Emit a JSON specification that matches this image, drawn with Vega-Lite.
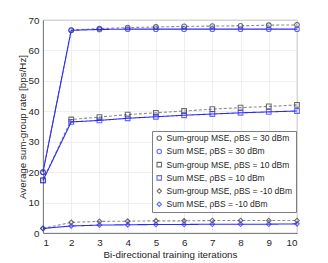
{
  "$schema": "https://vega.github.io/schema/vega-lite/v6.json",
  "autosize": {"type": "none"},
  "width": 254,
  "height": 213,
  "padding": {"left": 43, "top": 20, "right": 31, "bottom": 30},
  "background": "white",
  "config": {
    "font": "Liberation Sans",
    "view": {"stroke": "#7f7f7f", "strokeWidth": 0.8},
    "axis": {
      "labelFont": "Liberation Sans",
      "titleFont": "Liberation Sans",
      "labelFontSize": 9.8,
      "titleFontSize": 9.8,
      "titleFontWeight": "normal",
      "labelColor": "#262626",
      "titleColor": "#262626",
      "domainColor": "#7f7f7f",
      "tickColor": "#7f7f7f",
      "gridColor": "#e8e8e8",
      "gridWidth": 0.7,
      "tickSize": 0,
      "labelPadding": 4
    }
  },
  "data": {
    "values": [
      {"s": "Sum-group MSE, ρBS = 30 dBm", "m": "group", "it": 1, "r": 20.0},
      {"s": "Sum-group MSE, ρBS = 30 dBm", "m": "group", "it": 2, "r": 66.7},
      {"s": "Sum-group MSE, ρBS = 30 dBm", "m": "group", "it": 3, "r": 67.2},
      {"s": "Sum-group MSE, ρBS = 30 dBm", "m": "group", "it": 4, "r": 67.5},
      {"s": "Sum-group MSE, ρBS = 30 dBm", "m": "group", "it": 5, "r": 67.7},
      {"s": "Sum-group MSE, ρBS = 30 dBm", "m": "group", "it": 6, "r": 67.9},
      {"s": "Sum-group MSE, ρBS = 30 dBm", "m": "group", "it": 7, "r": 68.0},
      {"s": "Sum-group MSE, ρBS = 30 dBm", "m": "group", "it": 8, "r": 68.1},
      {"s": "Sum-group MSE, ρBS = 30 dBm", "m": "group", "it": 9, "r": 68.3},
      {"s": "Sum-group MSE, ρBS = 30 dBm", "m": "group", "it": 10, "r": 68.4},
      {"s": "Sum MSE, ρBS = 30 dBm", "m": "sum", "it": 1, "r": 20.0},
      {"s": "Sum MSE, ρBS = 30 dBm", "m": "sum", "it": 2, "r": 66.6},
      {"s": "Sum MSE, ρBS = 30 dBm", "m": "sum", "it": 3, "r": 66.9},
      {"s": "Sum MSE, ρBS = 30 dBm", "m": "sum", "it": 4, "r": 67.0},
      {"s": "Sum MSE, ρBS = 30 dBm", "m": "sum", "it": 5, "r": 67.0},
      {"s": "Sum MSE, ρBS = 30 dBm", "m": "sum", "it": 6, "r": 67.0},
      {"s": "Sum MSE, ρBS = 30 dBm", "m": "sum", "it": 7, "r": 67.0},
      {"s": "Sum MSE, ρBS = 30 dBm", "m": "sum", "it": 8, "r": 67.0},
      {"s": "Sum MSE, ρBS = 30 dBm", "m": "sum", "it": 9, "r": 67.0},
      {"s": "Sum MSE, ρBS = 30 dBm", "m": "sum", "it": 10, "r": 67.0},
      {"s": "Sum-group MSE, ρBS = 10 dBm", "m": "group", "it": 1, "r": 17.3},
      {"s": "Sum-group MSE, ρBS = 10 dBm", "m": "group", "it": 2, "r": 37.3},
      {"s": "Sum-group MSE, ρBS = 10 dBm", "m": "group", "it": 3, "r": 38.1},
      {"s": "Sum-group MSE, ρBS = 10 dBm", "m": "group", "it": 4, "r": 38.9},
      {"s": "Sum-group MSE, ρBS = 10 dBm", "m": "group", "it": 5, "r": 39.5},
      {"s": "Sum-group MSE, ρBS = 10 dBm", "m": "group", "it": 6, "r": 40.1},
      {"s": "Sum-group MSE, ρBS = 10 dBm", "m": "group", "it": 7, "r": 40.7},
      {"s": "Sum-group MSE, ρBS = 10 dBm", "m": "group", "it": 8, "r": 41.2},
      {"s": "Sum-group MSE, ρBS = 10 dBm", "m": "group", "it": 9, "r": 41.6},
      {"s": "Sum-group MSE, ρBS = 10 dBm", "m": "group", "it": 10, "r": 42.1},
      {"s": "Sum MSE, ρBS = 10 dBm", "m": "sum", "it": 1, "r": 17.3},
      {"s": "Sum MSE, ρBS = 10 dBm", "m": "sum", "it": 2, "r": 36.5},
      {"s": "Sum MSE, ρBS = 10 dBm", "m": "sum", "it": 3, "r": 37.0},
      {"s": "Sum MSE, ρBS = 10 dBm", "m": "sum", "it": 4, "r": 37.7},
      {"s": "Sum MSE, ρBS = 10 dBm", "m": "sum", "it": 5, "r": 38.2},
      {"s": "Sum MSE, ρBS = 10 dBm", "m": "sum", "it": 6, "r": 38.7},
      {"s": "Sum MSE, ρBS = 10 dBm", "m": "sum", "it": 7, "r": 39.1},
      {"s": "Sum MSE, ρBS = 10 dBm", "m": "sum", "it": 8, "r": 39.5},
      {"s": "Sum MSE, ρBS = 10 dBm", "m": "sum", "it": 9, "r": 39.8},
      {"s": "Sum MSE, ρBS = 10 dBm", "m": "sum", "it": 10, "r": 40.1},
      {"s": "Sum-group MSE, ρBS = -10 dBm", "m": "group", "it": 1, "r": 1.5},
      {"s": "Sum-group MSE, ρBS = -10 dBm", "m": "group", "it": 2, "r": 3.5},
      {"s": "Sum-group MSE, ρBS = -10 dBm", "m": "group", "it": 3, "r": 3.8},
      {"s": "Sum-group MSE, ρBS = -10 dBm", "m": "group", "it": 4, "r": 3.9},
      {"s": "Sum-group MSE, ρBS = -10 dBm", "m": "group", "it": 5, "r": 4.0},
      {"s": "Sum-group MSE, ρBS = -10 dBm", "m": "group", "it": 6, "r": 4.0},
      {"s": "Sum-group MSE, ρBS = -10 dBm", "m": "group", "it": 7, "r": 4.1},
      {"s": "Sum-group MSE, ρBS = -10 dBm", "m": "group", "it": 8, "r": 4.1},
      {"s": "Sum-group MSE, ρBS = -10 dBm", "m": "group", "it": 9, "r": 4.1},
      {"s": "Sum-group MSE, ρBS = -10 dBm", "m": "group", "it": 10, "r": 4.1},
      {"s": "Sum MSE, ρBS = -10 dBm", "m": "sum", "it": 1, "r": 1.5},
      {"s": "Sum MSE, ρBS = -10 dBm", "m": "sum", "it": 2, "r": 2.3},
      {"s": "Sum MSE, ρBS = -10 dBm", "m": "sum", "it": 3, "r": 2.6},
      {"s": "Sum MSE, ρBS = -10 dBm", "m": "sum", "it": 4, "r": 2.7},
      {"s": "Sum MSE, ρBS = -10 dBm", "m": "sum", "it": 5, "r": 2.8},
      {"s": "Sum MSE, ρBS = -10 dBm", "m": "sum", "it": 6, "r": 2.8},
      {"s": "Sum MSE, ρBS = -10 dBm", "m": "sum", "it": 7, "r": 2.9},
      {"s": "Sum MSE, ρBS = -10 dBm", "m": "sum", "it": 8, "r": 2.9},
      {"s": "Sum MSE, ρBS = -10 dBm", "m": "sum", "it": 9, "r": 2.9},
      {"s": "Sum MSE, ρBS = -10 dBm", "m": "sum", "it": 10, "r": 3.0}
    ]
  },
  "encoding": {
    "x": {
      "field": "it", "type": "quantitative",
      "scale": {"domain": [1, 10], "nice": false},
      "axis": {"values": [1,2,3,4,5,6,7,8,9,10], "title": "Bi-directional training iterations", "titlePadding": 3}
    },
    "y": {
      "field": "r", "type": "quantitative",
      "scale": {"domain": [0, 70], "nice": false},
      "axis": {"values": [0,10,20,30,40,50,60,70], "title": "Average sum-group rate [bps/Hz]", "titlePadding": 1}
    }
  },
  "layer": [
    {
      "mark": {"type": "line", "strokeWidth": 1.1},
      "encoding": {
        "detail": {"field": "s", "type": "nominal"},
        "color": {
          "field": "m", "type": "nominal", "legend": null,
          "scale": {"domain": ["group", "sum"], "range": ["#8c8c8c", "#2a2aff"]}
        },
        "strokeDash": {
          "field": "m", "type": "nominal", "legend": null,
          "scale": {"domain": ["group", "sum"], "range": [[3, 2], [1, 0]]}
        }
      }
    },
    {
      "mark": {"type": "point", "filled": false, "strokeWidth": 1.1, "size": 22},
      "encoding": {
        "stroke": {
          "field": "s", "type": "nominal",
          "scale": {
            "domain": ["Sum-group MSE, ρBS = 30 dBm", "Sum MSE, ρBS = 30 dBm", "Sum-group MSE, ρBS = 10 dBm", "Sum MSE, ρBS = 10 dBm", "Sum-group MSE, ρBS = -10 dBm", "Sum MSE, ρBS = -10 dBm"],
            "range": ["#333333", "#2a2aff", "#333333", "#2a2aff", "#333333", "#2a2aff"]
          },
          "legend": {
            "title": null,
            "orient": "none",
            "legendX": 109,
            "legendY": 111,
            "fillColor": "white",
            "strokeColor": "#7f7f7f",
            "padding": 3,
            "labelFont": "Liberation Sans",
            "labelFontSize": 8.5,
            "labelOffset": 3,
            "labelColor": "#262626",
            "rowPadding": 3.2,
            "symbolSize": 20,
            "symbolStrokeWidth": 1.1,
            "labelLimit": 200
          }
        },
        "shape": {
          "field": "s", "type": "nominal",
          "scale": {
            "domain": ["Sum-group MSE, ρBS = 30 dBm", "Sum MSE, ρBS = 30 dBm", "Sum-group MSE, ρBS = 10 dBm", "Sum MSE, ρBS = 10 dBm", "Sum-group MSE, ρBS = -10 dBm", "Sum MSE, ρBS = -10 dBm"],
            "range": ["circle", "circle", "square", "square", "diamond", "diamond"]
          },
          "legend": {
            "title": null,
            "orient": "none",
            "legendX": 109,
            "legendY": 111,
            "fillColor": "white",
            "strokeColor": "#7f7f7f",
            "padding": 3,
            "labelFont": "Liberation Sans",
            "labelFontSize": 8.5,
            "labelOffset": 3,
            "labelColor": "#262626",
            "rowPadding": 3.2,
            "symbolSize": 20,
            "symbolStrokeWidth": 1.1,
            "labelLimit": 200
          }
        }
      }
    }
  ]
}
